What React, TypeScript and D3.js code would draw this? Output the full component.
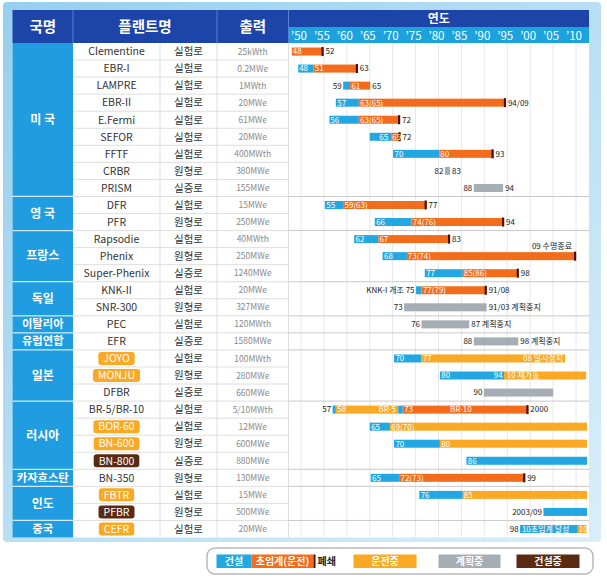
import React, { useEffect, useRef } from 'react';
import * as d3 from 'd3';

const countryNames = ['미 국', '영 국', '프랑스', '독일', '이탈리아', '유럽연합', '일본', '러시아', '카자흐스탄', '인도', '중국'];
const countrySizes = [9, 2, 3, 2, 1, 1, 3, 4, 1, 2, 1];

const plantNames = [
  'Clementine', 'EBR-I', 'LAMPRE', 'EBR-II', 'E.Fermi', 'SEFOR', 'FFTF', 'CRBR', 'PRISM',
  'DFR', 'PFR', 'Rapsodie', 'Phenix', 'Super-Phenix', 'KNK-II', 'SNR-300', 'PEC', 'EFR',
  'JOYO', 'MONJU', 'DFBR', 'BR-5/BR-10', 'BOR-60', 'BN-600', 'BN-800', 'BN-350', 'FBTR', 'PFBR', 'CEFR',
];
const plantTypes = [
  '실험로', '실험로', '실험로', '실험로', '실험로', '실험로', '실험로', '원형로', '실증로',
  '실험로', '원형로', '실험로', '원형로', '실증로', '실험로', '원형로', '실험로', '실증로',
  '실험로', '원형로', '실증로', '실험로', '실험로', '원형로', '실증로', '원형로', '실험로', '원형로', '실험로',
];
const plantOutputs = [
  '25kWth', '0.2MWe', '1MWth', '20MWe', '61MWe', '20MWe', '400MWth', '380MWe', '155MWe',
  '15MWe', '250MWe', '40MWth', '250MWe', '1240MWe', '20MWe', '327MWe', '120MWth', '1580MWe',
  '100MWth', '280MWe', '660MWe', '5/10MWth', '12MWe', '600MWe', '880MWe', '130MWe', '15MWe', '500MWe', '20MWe',
];
// plants shown as coloured badges: op = 운전중, uc = 건설중
const plantBadges: Record<string, string> = {
  JOYO: 'op', MONJU: 'op', 'BOR-60': 'op', 'BN-600': 'op', 'BN-800': 'uc', FBTR: 'op', PFBR: 'uc', CEFR: 'op',
};

const yearTicks = [1950, 1955, 1960, 1965, 1970, 1975, 1980, 1985, 1990, 1995, 2000, 2005, 2010];

// [row, kind, from, to]
const segments: [number, string, number, number][] = [
  [0, 'crit', 1948.0, 1954.9],
  [1, 'con', 1949.4, 1952.7], [1, 'crit', 1952.7, 1962.4],
  [2, 'con', 1959.2, 1960.7], [2, 'crit', 1960.7, 1965.1],
  [3, 'con', 1957.6, 1962.6], [3, 'crit', 1962.6, 1994.7],
  [4, 'con', 1956.2, 1962.6], [4, 'crit', 1962.6, 1971.6],
  [5, 'con', 1965.0, 1969.8], [5, 'crit', 1969.8, 1971.7],
  [6, 'con', 1970.1, 1980.2], [6, 'crit', 1980.2, 1992.0],
  [7, 'plan', 1981.4, 1982.5],
  [8, 'plan', 1987.7, 1994.1],
  [9, 'con', 1955.2, 1959.2], [9, 'crit', 1959.2, 1977.4],
  [10, 'con', 1966.1, 1974.1], [10, 'crit', 1974.1, 1994.3],
  [11, 'con', 1961.6, 1966.9], [11, 'crit', 1966.9, 1982.5],
  [12, 'con', 1967.8, 1973.1], [12, 'crit', 1973.1, 2010.0],
  [13, 'con', 1977.0, 1985.3], [13, 'crit', 1985.3, 1997.5],
  [14, 'con', 1975.1, 1976.3], [14, 'crit', 1976.3, 1990.5],
  [15, 'plan', 1972.5, 1990.5],
  [16, 'plan', 1976.3, 1986.7],
  [17, 'plan', 1987.7, 1997.4],
  [18, 'con', 1970.3, 1976.3], [18, 'op', 1976.3, 2007.6],
  [19, 'con', 1980.3, 1994.3], [19, 'op', 1994.3, 2012.2],
  [20, 'plan', 1989.9, 2005.0],
  [21, 'con', 1956.9, 1957.6], [21, 'op', 1957.6, 1971.2], [21, 'con', 1971.2, 1972.2], [21, 'crit', 1972.2, 1999.6],
  [22, 'con', 1965.0, 1969.4], [22, 'op', 1969.4, 2012.4],
  [23, 'con', 1970.3, 1980.3], [23, 'op', 1980.3, 2012.4],
  [24, 'con', 1986.1, 2012.4],
  [25, 'con', 1965.2, 1971.4], [25, 'crit', 1971.4, 1998.9],
  [26, 'con', 1975.8, 1985.3], [26, 'op', 1985.3, 2012.4],
  [27, 'con', 2002.9, 2012.4],
  [28, 'con', 1997.8, 2010.4], [28, 'op', 2010.4, 2012.3],
];

// rows that end with a 폐쇄 mark
const closedRows = [0, 1, 3, 4, 5, 6, 9, 10, 11, 12, 13, 14, 21, 25];

// [row, year, text, anchor]
const innerLabels: [number, number, string, string][] = [
  [0, 1948.2, '48', 'start'],
  [1, 1949.6, '48', 'start'], [1, 1953.0, '51', 'start'],
  [2, 1961.0, '61', 'start'],
  [3, 1957.9, '57', 'start'], [3, 1962.9, '63(65)', 'start'],
  [4, 1956.4, '56', 'start'], [4, 1962.9, '63(65)', 'start'],
  [5, 1969.0, '65', 'end'], [5, 1969.9, '69', 'start'],
  [6, 1970.4, '70', 'start'], [6, 1980.4, '80', 'start'],
  [9, 1955.5, '55', 'start'], [9, 1959.5, '59(63)', 'start'],
  [10, 1966.4, '66', 'start'], [10, 1974.4, '74(76)', 'start'],
  [11, 1961.9, '62', 'start'], [11, 1967.1, '67', 'start'],
  [12, 1968.1, '68', 'start'], [12, 1973.3, '73(74)', 'start'],
  [13, 1977.3, '77', 'start'], [13, 1985.5, '85(86)', 'start'],
  [14, 1976.6, '77(79)', 'start'],
  [18, 1970.6, '70', 'start'], [18, 1976.6, '77', 'start'], [18, 2007.2, '08 일시정지', 'end'],
  [19, 1980.6, '80', 'start'], [19, 1994.0, '94', 'end'], [19, 1994.9, '10 재가동', 'start'],
  [21, 1957.9, '58', 'start'], [21, 1966.9, 'BR-5', 'start'], [21, 1972.5, '73', 'start'], [21, 1982.5, 'BR-10', 'start'],
  [22, 1965.3, '65', 'start'], [22, 1969.7, '69(70)', 'start'],
  [23, 1970.6, '70', 'start'], [23, 1980.6, '80', 'start'],
  [24, 1986.4, '86', 'start'],
  [25, 1965.5, '65', 'start'], [25, 1971.7, '72(73)', 'start'],
  [26, 1976.1, '76', 'start'], [26, 1985.5, '85', 'start'],
  [28, 1998.2, '10초임계 달성', 'start'], [28, 2010.6, '10', 'start'],
];

// [row, text] placed before the first bar
const leftNotes: [number, string][] = [
  [2, '59'], [7, '82'], [8, '88'], [14, 'KNK-I 개조 75'], [15, '73'], [16, '76'], [17, '88'],
  [20, '90'], [21, '57'], [27, '2003/09'], [28, '98'],
];
// [row, text] placed after the last bar
const rightNotes: [number, string][] = [
  [0, '52'], [1, '63'], [2, '65'], [3, '94/09'], [4, '72'], [5, '72'], [6, '93'], [7, '83'], [8, '94'],
  [9, '77'], [10, '94'], [11, '83'], [13, '98'], [14, '91/08'], [15, '91/03 계획중지'], [16, '87 계획중지'],
  [17, '98 계획중지'], [21, '2000'], [25, '99'],
];

const legendKinds = ['con', 'crit', 'op', 'plan', 'uc'];
const legendLabels = ['건설', '초임계(운전)', '운전중', '계획중', '건설중'];

const COLORS: Record<string, string> = {
  con: '#22a7e2',
  crit: '#f36c1c',
  op: '#f9a923',
  plan: '#a6adb4',
  uc: '#5a2b12',
};
const FONT = "'Noto Sans CJK KR', 'Noto Sans', sans-serif";

const ReactorChart: React.FC = () => {
  const svgRef = useRef<SVGSVGElement>(null);

  useEffect(() => {
    if (!svgRef.current) return;
    const svg = d3.select(svgRef.current);
    svg.selectAll('*').remove();
    svg.attr('font-family', FONT);

    const left = 12.5, right = 589;
    const colName = 73, colType = 160, colOut = 217, colYear = 288.5;
    const headTop = 10, tickTop = 27, bodyTop = 43, bodyBottom = 537.5;

    const x = d3.scaleLinear().domain([1950, 2010]).range([301, 576]);
    const y = d3.scaleBand<number>().domain(d3.range(plantNames.length)).range([bodyTop, bodyBottom]);
    const rh = y.bandwidth();
    const cy = (i: number) => (y(i) || 0) + rh / 2;

    // background panel
    const defs = svg.append('defs');
    const grad = defs.append('linearGradient').attr('id', 'panel').attr('x1', 0).attr('y1', 0).attr('x2', 1).attr('y2', 1);
    grad.append('stop').attr('offset', '0%').attr('stop-color', '#97cfee');
    grad.append('stop').attr('offset', '100%').attr('stop-color', '#d9eef9');
    svg.append('rect').attr('x', 3).attr('y', 2).attr('width', 598).attr('height', 540).attr('rx', 4).attr('fill', 'url(#panel)');
    svg.append('rect').attr('x', left).attr('y', bodyTop).attr('width', right - left).attr('height', bodyBottom - bodyTop).attr('fill', '#fff');

    // year grid
    svg.append('g').selectAll('line').data(yearTicks).enter().append('line')
      .attr('x1', d => x(d)).attr('x2', d => x(d)).attr('y1', bodyTop).attr('y2', bodyBottom)
      .attr('stroke', '#e8e8e8').attr('stroke-width', 1);

    // row lines in the plant columns
    svg.append('g').selectAll('line').data(d3.range(1, plantNames.length)).enter().append('line')
      .attr('x1', colName).attr('x2', colYear).attr('y1', d => y(d) || 0).attr('y2', d => y(d) || 0)
      .attr('stroke', '#d6d6d6').attr('stroke-width', 0.8);
    [colType, colOut, colYear].forEach(cx => {
      svg.append('line').attr('x1', cx).attr('x2', cx).attr('y1', bodyTop).attr('y2', bodyBottom)
        .attr('stroke', '#d6d6d6').attr('stroke-width', 0.8);
    });

    // country column
    const starts = countrySizes.map((_, i) => d3.sum(countrySizes.slice(0, i)));
    const cg = svg.append('g');
    countryNames.forEach((name, i) => {
      const y0 = y(starts[i]) || 0;
      const h = countrySizes[i] * rh;
      cg.append('rect').attr('x', left).attr('y', y0).attr('width', colName - left).attr('height', h).attr('fill', '#1f9de0');
      if (i > 0) {
        cg.append('line').attr('x1', left).attr('x2', colName).attr('y1', y0).attr('y2', y0)
          .attr('stroke', '#cfeaf8').attr('stroke-width', 1.2);
        svg.append('line').attr('x1', colYear).attr('x2', right).attr('y1', y0).attr('y2', y0)
          .attr('stroke', '#c9c9c9').attr('stroke-width', 1);
      }
      cg.append('text').text(name).attr('x', (left + colName) / 2).attr('y', y0 + h / 2)
        .attr('dy', '0.36em').attr('text-anchor', 'middle').attr('fill', '#fff')
        .attr('font-size', countrySizes[i] > 1 ? 12 : 11.3).attr('font-weight', 700);
    });

    // header
    const hg = svg.append('g');
    hg.append('rect').attr('x', left).attr('y', headTop).attr('width', right - left).attr('height', bodyTop - headTop).attr('fill', '#1d44a8');
    hg.append('rect').attr('x', colYear).attr('y', tickTop).attr('width', right - colYear).attr('height', bodyTop - tickTop).attr('fill', '#1ca3dd');
    [colName, colOut, colYear].forEach(cx => {
      hg.append('line').attr('x1', cx).attr('x2', cx).attr('y1', headTop).attr('y2', bodyTop)
        .attr('stroke', '#5b7fd0').attr('stroke-width', 1);
    });
    const heads: [string, number][] = [['국명', (left + colName) / 2], ['플랜트명', (colName + colOut) / 2], ['출력', (colOut + colYear) / 2]];
    heads.forEach(([t, hx]) => {
      hg.append('text').text(t).attr('x', hx).attr('y', (headTop + bodyTop) / 2).attr('dy', '0.36em')
        .attr('text-anchor', 'middle').attr('fill', '#fff').attr('font-size', 14.5).attr('font-weight', 700);
    });
    hg.append('text').text('연도').attr('x', (colYear + right) / 2).attr('y', (headTop + tickTop) / 2 + 0.5).attr('dy', '0.36em')
      .attr('text-anchor', 'middle').attr('fill', '#fff').attr('font-size', 12).attr('font-weight', 700);
    hg.selectAll('.tick').data(yearTicks).enter().append('text')
      .text(d => '\u2019' + String(d % 100).padStart(2, '0'))
      .attr('x', d => x(d) - 2).attr('y', (tickTop + bodyTop) / 2 + 0.5).attr('dy', '0.36em')
      .attr('text-anchor', 'middle').attr('fill', '#fff').attr('font-size', 11.5);

    // plant columns
    const pg = svg.append('g');
    plantNames.forEach((name, i) => {
      const nx = (colName + colType) / 2;
      const badge = plantBadges[name];
      const t = pg.append('text').text(name).attr('x', nx).attr('y', cy(i)).attr('dy', '0.36em')
        .attr('text-anchor', 'middle').attr('font-size', 10.5).attr('fill', badge ? '#fff' : '#333');
      if (badge) {
        const w = (t.node() as SVGTextElement).getComputedTextLength() + 10;
        pg.insert('rect', () => t.node() as Element).attr('x', nx - w / 2).attr('y', cy(i) - 6.5).attr('width', w).attr('height', 13)
          .attr('rx', 3).attr('fill', COLORS[badge]);
      }
      pg.append('text').text(plantTypes[i]).attr('x', (colType + colOut) / 2).attr('y', cy(i)).attr('dy', '0.36em')
        .attr('text-anchor', 'middle').attr('font-size', 10.5).attr('fill', '#333');
      pg.append('text').text(plantOutputs[i]).attr('x', (colOut + colYear) / 2).attr('y', cy(i)).attr('dy', '0.36em')
        .attr('text-anchor', 'middle').attr('font-size', 8.5).attr('fill', '#8a8a8a');
    });

    // bars
    const bh = 8;
    const bg = svg.append('g');
    bg.selectAll('rect').data(segments).enter().append('rect')
      .attr('x', d => x(d[2])).attr('y', d => cy(d[0]) - bh / 2)
      .attr('width', d => x(d[3]) - x(d[2])).attr('height', bh)
      .attr('fill', d => COLORS[d[1]]);

    const rowEnd = (r: number) => d3.max(segments.filter(s => s[0] === r), s => s[3]) || 1950;
    const rowStart = (r: number) => d3.min(segments.filter(s => s[0] === r), s => s[2]) || 1950;

    bg.selectAll('.close').data(closedRows).enter().append('rect')
      .attr('x', d => x(rowEnd(d)) - 2).attr('y', d => cy(d) - bh / 2 - 0.5)
      .attr('width', 2.2).attr('height', bh + 1).attr('fill', '#4a1206');

    bg.selectAll('.inner').data(innerLabels).enter().append('text')
      .text(d => d[2]).attr('x', d => x(d[1])).attr('y', d => cy(d[0])).attr('dy', '0.36em')
      .attr('text-anchor', d => d[3]).attr('font-size', 8).attr('fill', '#fff');

    bg.selectAll('.lnote').data(leftNotes).enter().append('text')
      .text(d => d[1]).attr('x', d => x(rowStart(d[0])) - 1.5).attr('y', d => cy(d[0])).attr('dy', '0.36em')
      .attr('text-anchor', 'end').attr('font-size', 8).attr('fill', '#222');

    bg.selectAll('.rnote').data(rightNotes).enter().append('text')
      .text(d => d[1]).attr('x', d => x(rowEnd(d[0])) + 2).attr('y', d => cy(d[0])).attr('dy', '0.36em')
      .attr('text-anchor', 'start').attr('font-size', 8).attr('fill', '#222');

    // Phenix note above its bar
    bg.append('text').text('09 수명종료').attr('x', x(2010) - 4).attr('y', cy(12) - 7.5)
      .attr('text-anchor', 'end').attr('font-size', 8).attr('fill', '#222');

    // legend
    const lg = svg.append('g');
    lg.append('rect').attr('x', 207).attr('y', 548).attr('width', 386).attr('height', 26).attr('rx', 8)
      .attr('fill', '#fff').attr('stroke', '#b9b9b9').attr('stroke-width', 1.5);
    const legendX = [216.5, 251.5, 353.5, 438.5, 516.5];
    const legendW = [35, 62, 63, 62, 63];
    legendKinds.forEach((k, i) => {
      lg.append('rect').attr('x', legendX[i]).attr('y', 554.5).attr('width', legendW[i]).attr('height', 13.5).attr('fill', COLORS[k]);
      lg.append('text').text(legendLabels[i]).attr('x', legendX[i] + legendW[i] / 2).attr('y', 561.3).attr('dy', '0.36em')
        .attr('text-anchor', 'middle').attr('fill', '#fff').attr('font-size', 10).attr('font-weight', 700);
    });
    lg.append('rect').attr('x', legendX[1] + legendW[1]).attr('y', 554.5).attr('width', 2).attr('height', 13.5).attr('fill', '#4a1206');
    lg.append('text').text('폐쇄').attr('x', legendX[1] + legendW[1] + 4).attr('y', 561.3).attr('dy', '0.36em')
      .attr('fill', '#222').attr('font-size', 10).attr('font-weight', 700);
  }, []);

  return <svg ref={svgRef} width={607} height={584} style={{ position: 'absolute', left: 0, top: 0, background: '#fff' }} />;
};

export default function App() {
  return <ReactorChart />;
}
